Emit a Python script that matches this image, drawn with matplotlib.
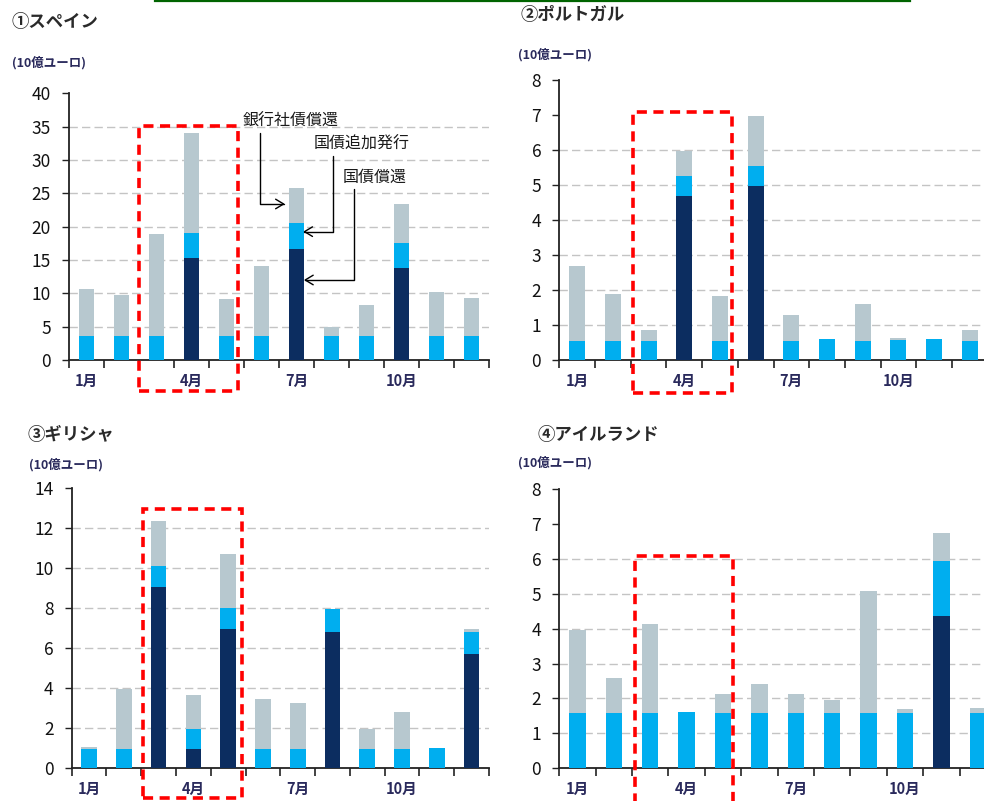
import numpy as np
import matplotlib
matplotlib.use('Agg')
import matplotlib.pyplot as plt
from matplotlib.patches import Rectangle
from matplotlib.lines import Line2D

plt.rcParams['font.family'] = ['Noto Sans CJK JP', 'DejaVu Sans']

# ---------------- data (10億ユーロ) ----------------
months = ['1月', '2月', '3月', '4月', '5月', '6月', '7月', '8月', '9月', '10月', '11月', '12月']
tick_months = ['1月', '4月', '7月', '10月']
series_names = ['国債償還', '国債追加発行', '銀行社債償還']

spain_redemption = [0, 0, 0, 15.35, 0, 0, 16.6, 0, 0, 13.85, 0, 0]
spain_additional = [3.6, 3.6, 3.6, 3.65, 3.6, 3.6, 3.9, 3.6, 3.6, 3.75, 3.6, 3.6]
spain_bank = [7.0, 6.15, 15.25, 15.0, 5.5, 10.5, 5.35, 1.3, 4.6, 5.75, 6.55, 5.75]

portugal_redemption = [0, 0, 0, 4.69, 0, 4.97, 0, 0, 0, 0, 0, 0]
portugal_additional = [0.55, 0.55, 0.55, 0.57, 0.55, 0.58, 0.55, 0.59, 0.55, 0.57, 0.59, 0.55]
portugal_bank = [2.14, 1.35, 0.31, 0.71, 1.28, 1.42, 0.75, 0, 1.05, 0.07, 0, 0.31]

greece_redemption = [0, 0, 9.05, 0.95, 6.95, 0, 0, 6.8, 0, 0, 0, 5.7]
greece_additional = [0.97, 0.97, 1.07, 1.0, 1.08, 0.97, 0.97, 1.15, 0.97, 0.97, 1.03, 1.13]
greece_bank = [0.11, 2.98, 2.25, 1.7, 2.67, 2.48, 2.31, 0, 0.98, 1.86, 0, 0.12]

ireland_redemption = [0, 0, 0, 0, 0, 0, 0, 0, 0, 0, 4.36, 0]
ireland_additional = [1.59, 1.59, 1.59, 1.62, 1.59, 1.59, 1.59, 1.59, 1.59, 1.59, 1.58, 1.59]
ireland_bank = [2.37, 1.01, 2.53, 0, 0.53, 0.82, 0.53, 0.37, 3.49, 0.1, 0.81, 0.15]

# ---------------- style ----------------
NAVY = '#0c2d60'
CYAN = '#00aeef'
GRAY = '#b7c8cf'
GRID = '#c4c4c4'
LABEL = '#2a2a5c'

W, H = 984, 801
fig = plt.figure(figsize=(W / 100, H / 100), dpi=100)


def frac_rect(left, right, top, bottom):
    return [left / W, 1 - bottom / H, (right - left) / W, (bottom - top) / H]


def panel(rect, title, title_px, unit_px, dark, cyan, gray, ymax, ystep, gridmax, box):
    ax = fig.add_axes(rect)
    x = np.arange(len(months))
    width = 0.45
    dark = np.array(dark)
    cyan = np.array(cyan)
    gray = np.array(gray)
    ax.bar(x, dark, width, color=NAVY, zorder=3, label=series_names[0])
    ax.bar(x, cyan, width, bottom=dark, color=CYAN, zorder=3, label=series_names[1])
    ax.bar(x, gray, width, bottom=dark + cyan, color=GRAY, zorder=3, label=series_names[2])
    ax.set_xlim(-0.5, 11.5)
    ax.set_ylim(0, ymax)
    yt = np.arange(0, ymax + ystep / 2, ystep)
    ax.set_yticks(yt)
    ax.set_yticklabels([f'{v:g}' for v in yt], fontsize=12.5, color='#111111')
    for v in yt[1:]:
        if v <= gridmax:
            ax.axhline(v, color=GRID, lw=1.0, ls=(0, (6, 3)), zorder=1)
    ax.set_xticks([months.index(m) for m in tick_months])
    ax.set_xticklabels(tick_months, fontsize=10.5, fontweight='bold', color=LABEL)
    ax.set_xticks(np.arange(-0.5, 12, 1), minor=True)
    ax.tick_params(axis='x', which='major', length=0, pad=9)
    ax.tick_params(axis='x', which='minor', length=6, width=1.2, direction='out', color='#222222')
    ax.tick_params(axis='y', length=5, width=1.0, pad=8, color='#222222')
    for s in ['top', 'right']:
        ax.spines[s].set_visible(False)
    for s in ['left', 'bottom']:
        ax.spines[s].set_color('#222222')
        ax.spines[s].set_linewidth(1.3)
    x0, x1, y0, y1 = box
    ax.add_patch(Rectangle((x0, y0), x1 - x0, y1 - y0, fill=False, ec='#ff0000',
                           lw=2.6, ls=(0, (2.8, 1.8)), clip_on=False, zorder=6))
    fig.text(title_px[0] / W, 1 - title_px[1] / H, title, fontsize=12.5, fontweight='bold',
             color='#2a2a2a', va='center', ha='left')
    fig.text(unit_px[0] / W, 1 - unit_px[1] / H, '(10億ユーロ)', fontsize=9,
             fontweight='bold', color=LABEL, va='center', ha='left')
    return ax


ax1 = panel(frac_rect(69, 489, 93.3, 360), '①スペイン', (12, 21.7), (12, 63),
            spain_redemption, spain_additional, spain_bank, 40, 5, 35,
            (1.51, 4.34, -4.6, 35.1))
ax2 = panel(frac_rect(559.3, 987.7, 80, 360), '②ポルトガル', (521, 15), (518, 55),
            portugal_redemption, portugal_additional, portugal_bank, 8, 1, 6,
            (1.56, 4.35, -0.93, 7.08))
ax3 = panel(frac_rect(71.7, 489, 488.3, 768.3), '③ギリシャ', (28, 435), (29, 465),
            greece_redemption, greece_additional, greece_bank, 14, 2, 12,
            (1.54, 4.385, -1.5, 12.97))
ax4 = panel(frac_rect(559.3, 996, 489, 768.3), '④アイルランド', (538, 435), (518, 463),
            ireland_redemption, ireland_additional, ireland_bank, 8, 1, 6,
            (1.58, 4.28, -1.2, 6.09))

# ---------------- annotations (Spain) ----------------
arrow_kw = dict(arrowstyle='->,head_length=0.5,head_width=0.3', color='black', lw=1.0,
                shrinkA=0, shrinkB=0, connectionstyle='angle,angleA=90,angleB=0,rad=0')
ax1.annotate(series_names[2], xy=(5.67, 23.4), xytext=(5.83, 35.75), textcoords='data',
             ha='center', va='center', fontsize=11.5, color='#1a1a1a',
             arrowprops=dict(arrow_kw, relpos=(0.18, 0)))
ax1.annotate(series_names[1], xy=(6.19, 19.25), xytext=(7.86, 32.35), textcoords='data',
             ha='center', va='center', fontsize=11.5, color='#1a1a1a',
             arrowprops=dict(arrow_kw, relpos=(0.2, 0)))
ax1.annotate(series_names[0], xy=(6.21, 12.0), xytext=(8.24, 27.35), textcoords='data',
             ha='center', va='center', fontsize=11.5, color='#1a1a1a',
             arrowprops=dict(arrow_kw, relpos=(0.17, 0)))

# green rule at the top
fig.add_artist(Line2D([155 / W, 910 / W], [1 - 1.2 / H, 1 - 1.2 / H], color='#006400', lw=1.6))

fig.savefig('out.png', dpi=100)
